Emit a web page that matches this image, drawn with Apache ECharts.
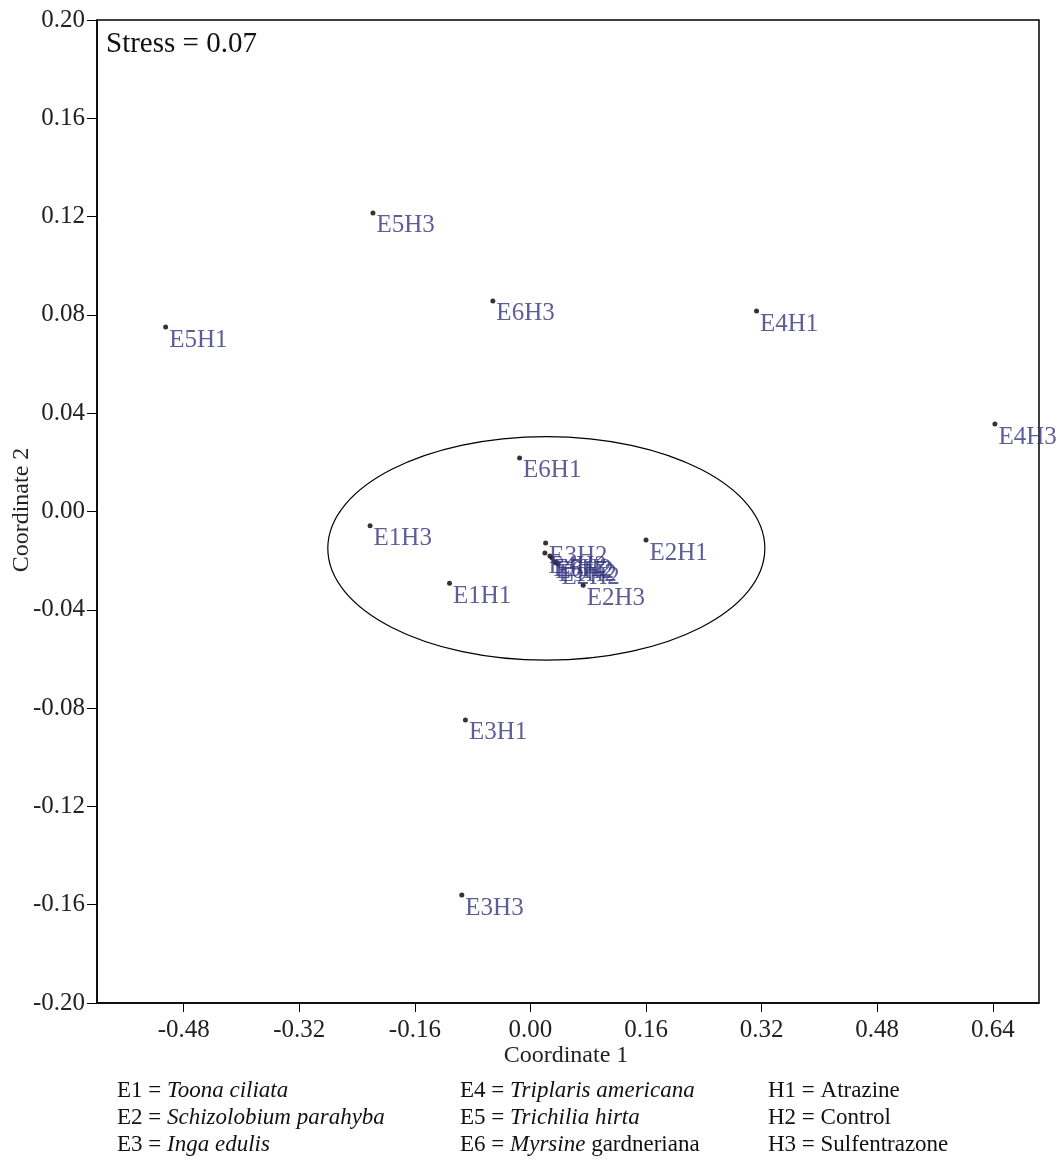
<!DOCTYPE html>
<html>
<head>
<meta charset="utf-8">
<script src="https://cdn.jsdelivr.net/npm/echarts@6/dist/echarts.min.js"></script>
<style>html,body{margin:0;padding:0;background:#fff;}#c{width:1064px;height:1162px;}</style>
</head>
<body>
<div id="c"></div>
<script>
// ---- data ----
const pointLabels = ['E5H3','E5H1','E6H3','E4H1','E4H3','E6H1','E1H3','E1H1','E2H1','E2H3','E3H1','E3H3','E2H2','E1H2','E6H2','E5H2','E4H2','E3H2'];
const coord1 = [-0.218,-0.505,-0.052,0.313,0.643,-0.015,-0.222,-0.112,0.160,0.073,-0.090,-0.095,0.038,0.034,0.030,0.027,0.020,0.021];
const coord2 = [0.1215,0.0751,0.0857,0.0816,0.0356,0.0218,-0.0058,-0.0292,-0.0116,-0.0300,-0.0848,-0.1561,-0.0214,-0.0205,-0.0189,-0.0181,-0.0169,-0.0128];
const xTicks = [-0.48,-0.32,-0.16,0.00,0.16,0.32,0.48,0.64];
const yTicks = [-0.20,-0.16,-0.12,-0.08,-0.04,0.00,0.04,0.08,0.12,0.16,0.20];
const ellipseCenter = [0.022,-0.015];
const ellipseRadii = [0.3025,0.0455];
const stressText = 'Stress = 0.07';
const legendCol1 = [['E1 = ','Toona ciliata',''],['E2 = ','Schizolobium parahyba',''],['E3 = ','Inga edulis','']];
const legendCol2 = [['E4 = ','Triplaris americana',''],['E5 = ','Trichilia hirta',''],['E6 = ','Myrsine',' gardneriana']];
const legendCol3 = ['H1 = Atrazine','H2 = Control','H3 = Sulfentrazone'];

const FONT = '"Liberation Serif","Times New Roman",serif';
const chart = echarts.init(document.getElementById('c'));
const pts = coord1.map((x,i)=>({value:[x,coord2[i]],name:pointLabels[i]}));

function legendGraphic(col, x){
  return col.map((r,i)=>({
    type:'text', left:x, top:1079+i*27,
    style:{
      text:'{n|'+r[0]+'}{i|'+r[1]+'}'+(r[2]?'{n|'+r[2]+'}':''),
      rich:{n:{fontFamily:FONT,fontSize:23,fill:'#111'},i:{fontFamily:FONT,fontSize:23,fontStyle:'italic',fill:'#111'}}
    }
  }));
}

const graphics = [
  {type:'text', left:106, top:30, style:{text:stressText, fontFamily:FONT, fontSize:29, fill:'#111'}},
  {type:'text', x:22, y:510, rotation:Math.PI/2, style:{text:'Coordinate 2', fontFamily:FONT, fontSize:24, fill:'#222', align:'center', verticalAlign:'middle'}},
  {type:'text', x:566, y:1056, style:{text:'Coordinate 1', fontFamily:FONT, fontSize:24, fill:'#222', align:'center', verticalAlign:'middle'}}
].concat(legendGraphic(legendCol1,117), legendGraphic(legendCol2,460),
  legendCol3.map((t,i)=>({type:'text', left:768, top:1079+i*27, style:{text:t, fontFamily:FONT, fontSize:23, fill:'#111'}})));

chart.setOption({
  animation:false,
  backgroundColor:'#fff',
  grid:{left:97, right:25, top:20, bottom:159, show:true, borderColor:'#000', borderWidth:1.5, backgroundColor:'transparent'},
  xAxis:{type:'value', min:-0.6, max:0.704,
    axisLine:{show:true, onZero:false, lineStyle:{color:'#000', width:1.5}},
    axisTick:{show:true, length:9, customValues:xTicks, lineStyle:{color:'#000'}},
    axisLabel:{customValues:xTicks, formatter:v=>v.toFixed(2), fontFamily:FONT, fontSize:25, color:'#222', margin:15},
    splitLine:{show:false}},
  yAxis:{type:'value', min:-0.2, max:0.2,
    axisLine:{show:true, onZero:false, lineStyle:{color:'#000', width:1.5}},
    axisTick:{show:true, length:10, customValues:yTicks, lineStyle:{color:'#000'}},
    axisLabel:{customValues:yTicks, formatter:v=>v.toFixed(2), fontFamily:FONT, fontSize:25, color:'#222', margin:12},
    splitLine:{show:false}},
  graphic:graphics,
  series:[
    {type:'custom', silent:true, data:[[ellipseCenter[0],ellipseCenter[1],ellipseRadii[0],ellipseRadii[1]]],
     renderItem:function(params, api){
       const c = api.coord([api.value(0), api.value(1)]);
       const s = api.size([api.value(2), api.value(3)]);
       return {type:'ellipse', shape:{cx:c[0], cy:c[1], rx:s[0], ry:s[1]}, style:{fill:'none', stroke:'#000', lineWidth:1.2}};
     }},
    {type:'scatter', data:pts, symbol:'circle', symbolSize:5, itemStyle:{color:'#000'},
     label:{show:true, formatter:p=>p.name, position:[6,15.5], align:'left', verticalAlign:'middle',
       fontFamily:FONT, fontSize:25, color:'#34347e'}}
  ]
});
</script>
</body>
</html>
